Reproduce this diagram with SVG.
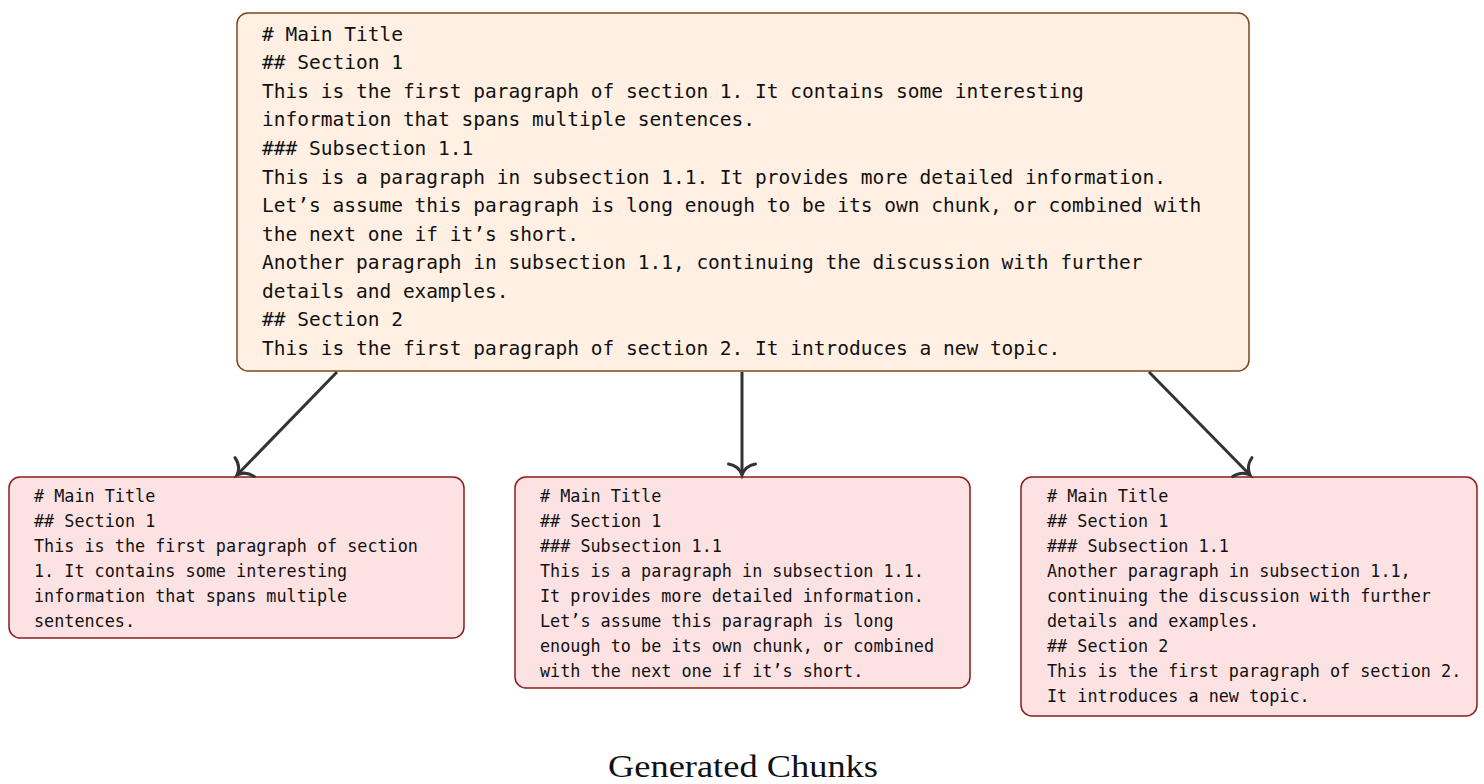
<svg xmlns="http://www.w3.org/2000/svg" width="1484" height="784" viewBox="0 0 1484 784">
<style>
.src{fill:#fff0e3;stroke:#7b4a1c;stroke-width:1.5}
.chunk{fill:#fde2e4;stroke:#8b1c1c;stroke-width:1.5}
.big{font-family:"DejaVu Sans Mono","Liberation Mono",monospace;font-size:19.5px;fill:#111}
.small{font-family:"DejaVu Sans Mono","Liberation Mono",monospace;font-size:16.8px;fill:#111}
.edge{stroke:#333;stroke-width:3;fill:none}
.caption{font-family:"Liberation Serif","DejaVu Serif",serif;font-size:32px;fill:#111}
</style>
<defs>
<marker id="arr" markerUnits="userSpaceOnUse" markerWidth="32" markerHeight="32" viewBox="-16 -16 32 32" refX="0" refY="0" orient="auto" overflow="visible">
<path d="M -11,-13.5 Q -9,-3 0,0 Q -9,3 -11,13.5" fill="none" stroke="#333" stroke-width="3" stroke-linecap="round"/>
</marker>
</defs>
<g id="source">
<rect class="src" x="237" y="13" width="1012" height="358" rx="11"/>
<text class="big">
<tspan x="262" y="40.8"># Main Title</tspan>
<tspan x="262" y="69.3">## Section 1</tspan>
<tspan x="262" y="97.9">This is the first paragraph of section 1. It contains some interesting</tspan>
<tspan x="262" y="126.4">information that spans multiple sentences.</tspan>
<tspan x="262" y="155">### Subsection 1.1</tspan>
<tspan x="262" y="183.5">This is a paragraph in subsection 1.1. It provides more detailed information.</tspan>
<tspan x="262" y="212.1">Let’s assume this paragraph is long enough to be its own chunk, or combined with</tspan>
<tspan x="262" y="240.6">the next one if it’s short.</tspan>
<tspan x="262" y="269.2">Another paragraph in subsection 1.1, continuing the discussion with further</tspan>
<tspan x="262" y="297.7">details and examples.</tspan>
<tspan x="262" y="326.3">## Section 2</tspan>
<tspan x="262" y="354.8">This is the first paragraph of section 2. It introduces a new topic.</tspan>
</text>
</g>
<g id="chunk1">
<rect class="chunk" x="9" y="477" width="455" height="161" rx="11"/>
<text class="small">
<tspan x="34" y="501.7"># Main Title</tspan>
<tspan x="34" y="526.7">## Section 1</tspan>
<tspan x="34" y="551.7">This is the first paragraph of section</tspan>
<tspan x="34" y="576.7">1. It contains some interesting</tspan>
<tspan x="34" y="601.7">information that spans multiple</tspan>
<tspan x="34" y="626.7">sentences.</tspan>
</text>
</g>
<g id="chunk2">
<rect class="chunk" x="515" y="477" width="455" height="211" rx="11"/>
<text class="small">
<tspan x="540" y="501.7"># Main Title</tspan>
<tspan x="540" y="526.7">## Section 1</tspan>
<tspan x="540" y="551.7">### Subsection 1.1</tspan>
<tspan x="540" y="576.7">This is a paragraph in subsection 1.1.</tspan>
<tspan x="540" y="601.7">It provides more detailed information.</tspan>
<tspan x="540" y="626.7">Let’s assume this paragraph is long</tspan>
<tspan x="540" y="651.7">enough to be its own chunk, or combined</tspan>
<tspan x="540" y="676.7">with the next one if it’s short.</tspan>
</text>
</g>
<g id="chunk3">
<rect class="chunk" x="1021" y="477" width="456" height="239" rx="11"/>
<text class="small">
<tspan x="1047" y="501.7"># Main Title</tspan>
<tspan x="1047" y="526.7">## Section 1</tspan>
<tspan x="1047" y="551.7">### Subsection 1.1</tspan>
<tspan x="1047" y="576.7">Another paragraph in subsection 1.1,</tspan>
<tspan x="1047" y="601.7">continuing the discussion with further</tspan>
<tspan x="1047" y="626.7">details and examples.</tspan>
<tspan x="1047" y="651.7">## Section 2</tspan>
<tspan x="1047" y="676.7">This is the first paragraph of section 2.</tspan>
<tspan x="1047" y="701.7">It introduces a new topic.</tspan>
</text>
</g>
<g id="connectors">
<line class="edge" x1="337" y1="372" x2="237" y2="475" marker-end="url(#arr)"/>
<line class="edge" x1="742" y1="372" x2="742" y2="475" marker-end="url(#arr)"/>
<line class="edge" x1="1149" y1="372" x2="1250" y2="475" marker-end="url(#arr)"/>
</g>
<text class="caption" x="743" y="777" text-anchor="middle" textLength="270" lengthAdjust="spacingAndGlyphs">Generated Chunks</text>
</svg>
